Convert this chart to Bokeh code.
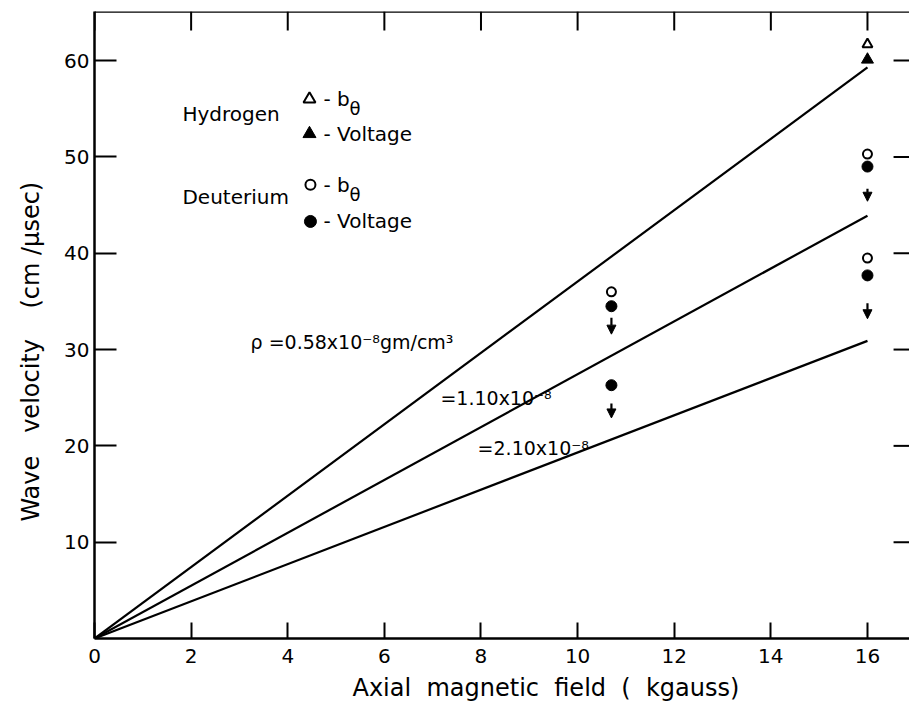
from bokeh.plotting import figure
from bokeh.models import (Range1d, FixedTicker, Label, Arrow, NormalHead,
                          ColumnDataSource, Span, Title)
from bokeh.embed import file_html
from bokeh.resources import INLINE

FONT = "DejaVu Sans"
NB = "\u00a0"

# Density lines: wave velocity reached at the end field for each density
line_labels = ["ρ =0.58x10⁻⁸gm/cm³", "=1.10x10⁻⁸", "=2.10x10⁻⁸"]
line_field_end = 16.0
line_velocity_end = [59.3, 43.9, 30.9]

# Hydrogen measurements
h_btheta_field = [16.0]
h_btheta_vel = [61.7]
h_volt_field = [16.0]
h_volt_vel = [60.1]

# Deuterium measurements
d_btheta_field = [10.7, 16.0, 16.0]
d_btheta_vel = [36.0, 50.3, 39.5]
d_volt_field = [10.7, 10.7, 16.0, 16.0]
d_volt_vel = [34.5, 26.3, 49.0, 37.7]

# Downward arrows under the deuterium voltage points
arrow_field = [10.7, 10.7, 16.0, 16.0]
arrow_from = [33.3, 24.4, 46.7, 34.8]
arrow_to = [31.6, 22.9, 45.4, 33.2]

x_ticks = [0, 2, 4, 6, 8, 10, 12, 14, 16]
y_ticks = [10, 20, 30, 40, 50, 60]

X_MAX, Y_MAX = 16.87, 65.1

p = figure(width=909, height=711, output_backend="svg", toolbar_location=None,
           x_range=Range1d(0, X_MAX), y_range=Range1d(0, Y_MAX),
           min_border_left=94, min_border_right=0, min_border_top=11,
           min_border_bottom=73)
p.outline_line_color = None
p.xgrid.visible = False
p.ygrid.visible = False
p.background_fill_color = "white"
p.border_fill_color = "white"

for ax, ticks, tick_in, standoff in ((p.xaxis[0], x_ticks, 16, 10),
                                     (p.yaxis[0], y_ticks, 22, 5)):
    ax.ticker = FixedTicker(ticks=ticks)
    ax.axis_line_width = 2.5
    ax.axis_line_color = "black"
    ax.major_tick_in = tick_in
    ax.major_tick_out = 0
    ax.major_tick_line_width = 2
    ax.major_tick_line_color = "black"
    ax.minor_tick_line_color = None
    ax.major_label_standoff = standoff
    ax.major_label_text_font = FONT
    ax.major_label_text_font_size = "20px"
    ax.major_label_text_color = "black"

# Vertical axis title
p.yaxis[0].axis_label = ("Wave" + NB * 3 + "velocity" + NB * 4 + "(cm" + NB
                         + "/\u03bcsec)" + NB * 7)
p.yaxis[0].axis_label_text_font = FONT
p.yaxis[0].axis_label_text_font_size = "24px"
p.yaxis[0].axis_label_text_font_style = "normal"
p.yaxis[0].axis_label_text_color = "black"
p.yaxis[0].axis_label_standoff = 16

# Horizontal axis title
p.add_layout(Title(text="Axial" + NB * 2 + "magnetic" + NB * 2 + "field" + NB * 2
                   + "(" + NB * 2 + "kgauss)",
                   align="left", offset=258, text_font=FONT,
                   text_font_size="24px", text_font_style="normal",
                   text_color="black", standoff=12), "below")

# Top edge of the frame with inward ticks, and inward ticks on the right edge
p.add_layout(Span(location=Y_MAX, dimension="width", line_color="black",
                  line_width=2.5))
p.segment(x0=x_ticks, y0=[Y_MAX] * len(x_ticks), x1=x_ticks,
          y1=[Y_MAX - 1.97] * len(x_ticks), line_color="black", line_width=2)
p.segment(x0=[X_MAX - 0.33] * len(y_ticks), y0=y_ticks,
          x1=[X_MAX] * len(y_ticks), y1=y_ticks, line_color="black",
          line_width=2)

# Density lines from the origin
for v in line_velocity_end:
    p.line([0, line_field_end], [0, v], line_color="black", line_width=2.2)

# Measurements
p.scatter(h_btheta_field, h_btheta_vel, marker="triangle", size=10,
          fill_color="white", line_color="black", line_width=2)
p.scatter(h_volt_field, h_volt_vel, marker="triangle", size=12,
          fill_color="black", line_color="black", line_width=1)
p.scatter(d_btheta_field, d_btheta_vel, marker="circle", size=9,
          fill_color="white", line_color="black", line_width=2)
p.scatter(d_volt_field, d_volt_vel, marker="circle", size=11,
          fill_color="black", line_color="black", line_width=1)

arrows = ColumnDataSource(dict(x=arrow_field, y0=arrow_from, y1=arrow_to))
p.add_layout(Arrow(end=NormalHead(size=9, fill_color="black", line_color="black",
                                  line_width=1),
                   x_start="x", y_start="y0", x_end="x", y_end="y1",
                   line_width=2.2, line_color="black", source=arrows))


def add_text(x, y, text, size="18px", align="left"):
    p.add_layout(Label(x=x, y=y, text=text, text_font=FONT,
                       text_font_size=size, text_align=align,
                       text_baseline="middle", text_color="black"))


# Line labels
add_text(3.23, 30.8, line_labels[0], "19px")
add_text(7.16, 25.0, line_labels[1], "19px")
add_text(7.93, 19.8, line_labels[2], "19px")

# Key
add_text(1.82, 54.5, "Hydrogen", "20px")
add_text(1.82, 45.8, "Deuterium", "20px")
p.scatter([4.45], [56.0], marker="triangle", size=12, fill_color="white",
          line_color="black", line_width=2)
p.scatter([4.45], [52.4], marker="triangle", size=13, fill_color="black",
          line_color="black", line_width=1)
p.scatter([4.47], [47.1], marker="circle", size=10, fill_color="white",
          line_color="black", line_width=2)
p.scatter([4.47], [43.3], marker="circle", size=12, fill_color="black",
          line_color="black", line_width=1)
for yy in (56.0, 47.1):
    add_text(4.74, yy, "-" + NB + "b", "20px")
    add_text(5.28, yy - 1.0, "θ", "18px")
for yy in (52.4, 43.3):
    add_text(4.74, yy, "-" + NB + "Voltage", "20px")

open("out.html", "w").write(file_html(p, INLINE))
